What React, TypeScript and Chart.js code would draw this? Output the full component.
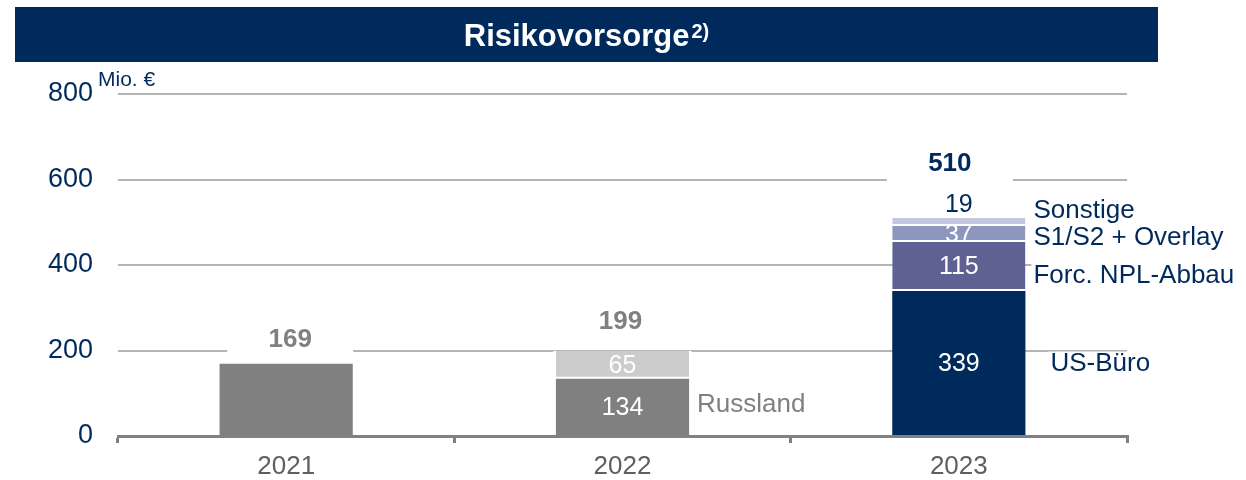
import { useEffect, useRef } from 'react';
import { Chart, registerables } from 'chart.js';

Chart.register(...registerables);

const categories = ['2021', '2022', '2023'];
const baseValues = [169, 134, 339];
const secondValues = [null, 65, 115];
const thirdValues = [null, null, 37];
const fourthValues = [null, null, 19];
const totals = [169, 199, 510];
const yTicks = [0, 200, 400, 600, 800];
const sideLabels = ['Russland', 'US-Büro', 'Forc. NPL-Abbau', 'S1/S2 + Overlay', 'Sonstige'];
const titleText = 'Risikovorsorge';
const titleSup = '2)';
const unitText = 'Mio. €';

const NAVY = '#002a5c';
const GREY = '#808080';
const FONT = '"Liberation Sans", Arial, sans-serif';

const baseColors = [GREY, GREY, NAVY];
const secondColors = ['#cccccc', '#cccccc', '#5e6192'];
const thirdColors = ['#8f96bd', '#8f96bd', '#8f96bd'];
const fourthColors = ['#c4c7df', '#c4c7df', '#c4c7df'];

// placement of side labels: [category, dataset, dx, dy, color]
const sidePlacement: [number, number, number, number, string][] = [
  [1, 0, 8, -2, GREY],
  [2, 0, 25, 1, NAVY],
  [2, 1, 8, 9, NAVY],
  [2, 2, 8, 4, NAVY],
  [2, 3, 8, -11, NAVY],
];
const totalOffsets = [24, 29, 54];
const totalDx = [4, -2, -9];
const totalColors = [GREY, GREY, NAVY];

function barProps(chart: any, ds: number, i: number) {
  const el = chart.getDatasetMeta(ds).data[i];
  if (!el) return null;
  const v = chart.data.datasets[ds].data[i];
  if (v === null || v === undefined) return null;
  return el.getProps(['x', 'y', 'base', 'width'], true);
}

function stackTop(chart: any, i: number) {
  let top = Infinity;
  let p: any = null;
  for (let d = 0; d < chart.data.datasets.length; d++) {
    const b = barProps(chart, d, i);
    if (b) {
      top = Math.min(top, b.y);
      p = b;
    }
  }
  return { top, p };
}

const decoPlugin = {
  id: 'deco',
  beforeDatasetsDraw(chart: any) {
    const ctx = chart.ctx;
    ctx.save();
    ctx.fillStyle = '#ffffff';
    // white margins around bars (cut grid lines)
    for (let i = 0; i < categories.length; i++) {
      const { top, p } = stackTop(chart, i);
      if (!p) continue;
      ctx.fillRect(p.x - p.width / 2 - 2.5, top, p.width + 5, p.base - top);
    }
    // boxes behind total labels
    for (let i = 0; i < categories.length; i++) {
      const { top, p } = stackTop(chart, i);
      if (!p) continue;
      const cy = top - totalOffsets[i];
      ctx.fillRect(p.x + totalDx[i] - 63, cy - 17, 126, 34);
    }
    // boxes behind side labels
    ctx.font = `26px ${FONT}`;
    sidePlacement.forEach((s, k) => {
      const b = barProps(chart, s[1], s[0]);
      if (!b) return;
      const cy = (b.y + b.base) / 2 + s[3];
      const w = ctx.measureText(sideLabels[k]).width;
      ctx.fillRect(b.x + b.width / 2 + s[2] - 2, cy - 12.5, w + 4, 25);
    });
    ctx.restore();
  },
  afterDatasetsDraw(chart: any) {
    const ctx = chart.ctx;
    ctx.save();
    ctx.textBaseline = 'middle';
    // segment labels
    for (let d = 0; d < chart.data.datasets.length; d++) {
      for (let i = 0; i < categories.length; i++) {
        const b = barProps(chart, d, i);
        if (!b) continue;
        const v = chart.data.datasets[d].data[i];
        ctx.textAlign = 'center';
        ctx.font = `25px ${FONT}`;
        if (d === 3) {
          ctx.fillStyle = NAVY;
          ctx.fillText(String(v), b.x, b.y - 13);
        } else if (!(d === 0 && i === 0)) {
          ctx.fillStyle = '#ffffff';
          ctx.fillText(String(v), b.x, (b.y + b.base) / 2 + 1);
        }
      }
    }
    // totals
    for (let i = 0; i < categories.length; i++) {
      const { top, p } = stackTop(chart, i);
      if (!p) continue;
      ctx.textAlign = 'center';
      ctx.font = `bold 26px ${FONT}`;
      ctx.fillStyle = totalColors[i];
      ctx.fillText(String(totals[i]), p.x + totalDx[i], top - totalOffsets[i]);
    }
    // side labels
    ctx.font = `26px ${FONT}`;
    ctx.textAlign = 'left';
    sidePlacement.forEach((s, k) => {
      const b = barProps(chart, s[1], s[0]);
      if (!b) return;
      const cy = (b.y + b.base) / 2 + s[3];
      ctx.fillStyle = s[4];
      ctx.fillText(sideLabels[k], b.x + b.width / 2 + s[2], cy);
    });
    ctx.restore();
  },
  afterDraw(chart: any) {
    const ctx = chart.ctx;
    ctx.save();
    // title banner
    ctx.fillStyle = NAVY;
    ctx.fillRect(15, 7, 1143, 55);
    ctx.fillStyle = '#ffffff';
    ctx.textBaseline = 'alphabetic';
    ctx.font = `bold 31px ${FONT}`;
    const w1 = ctx.measureText(titleText).width;
    ctx.font = `bold 20px ${FONT}`;
    const w2 = ctx.measureText(titleSup).width;
    const startX = 586.5 - (w1 + w2 + 2) / 2;
    ctx.textAlign = 'left';
    ctx.font = `bold 31px ${FONT}`;
    ctx.fillText(titleText, startX, 46);
    ctx.font = `bold 20px ${FONT}`;
    ctx.fillText(titleSup, startX + w1 + 2, 38);
    // unit
    ctx.fillStyle = NAVY;
    ctx.font = `21px ${FONT}`;
    ctx.textBaseline = 'middle';
    ctx.fillText(unitText, 98, 80);
    ctx.restore();
  },
};

export default function App() {
  const ref = useRef<HTMLCanvasElement | null>(null);
  useEffect(() => {
    if (!ref.current) return;
    const common = {
      barPercentage: 0.396,
      categoryPercentage: 1,
      borderColor: '#ffffff',
      borderSkipped: false,
    };
    const chart = new Chart(ref.current, {
      type: 'bar',
      data: {
        labels: categories,
        datasets: [
          { ...common, data: baseValues, backgroundColor: baseColors, borderWidth: 0 },
          { ...common, data: secondValues, backgroundColor: secondColors, borderWidth: { top: 0, left: 0, right: 0, bottom: 2 } },
          { ...common, data: thirdValues, backgroundColor: thirdColors, borderWidth: { top: 0, left: 0, right: 0, bottom: 2 } },
          { ...common, data: fourthValues, backgroundColor: fourthColors, borderWidth: { top: 0, left: 0, right: 0, bottom: 2 } },
        ] as any,
      },
      options: {
        responsive: false,
        maintainAspectRatio: false,
        animation: false,
        events: [],
        layout: { padding: { left: 0, right: 119, top: 94, bottom: 0 } },
        plugins: { legend: { display: false }, tooltip: { enabled: false }, title: { display: false } },
        scales: {
          x: {
            stacked: true,
            afterFit: (s: any) => { s.height = 44; },
            grid: { display: true, drawOnChartArea: false, drawTicks: true, tickLength: 7, lineWidth: 3, color: GREY, offset: true },
            border: { display: true, color: GREY, width: 3, z: 1 },
            ticks: { color: '#5f5f5f', font: { family: FONT, size: 26 }, padding: 8 },
          },
          y: {
            stacked: true,
            min: 0,
            max: 800,
            afterFit: (s: any) => { s.width = 118; },
            afterBuildTicks: (s: any) => { s.ticks = yTicks.map((v) => ({ value: v })); },
            grid: { display: true, drawTicks: false, lineWidth: 2, color: '#b4b4b4' },
            border: { display: false },
            ticks: { color: NAVY, font: { family: FONT, size: 27 }, padding: 25 },
          },
        },
      } as any,
      plugins: [decoPlugin],
    });
    return () => chart.destroy();
  }, []);
  return (
    <div style={{ position: 'fixed', left: 0, top: 0, width: 1246, height: 480, background: '#fff' }}>
      <canvas ref={ref} width={1246} height={480} />
    </div>
  );
}
